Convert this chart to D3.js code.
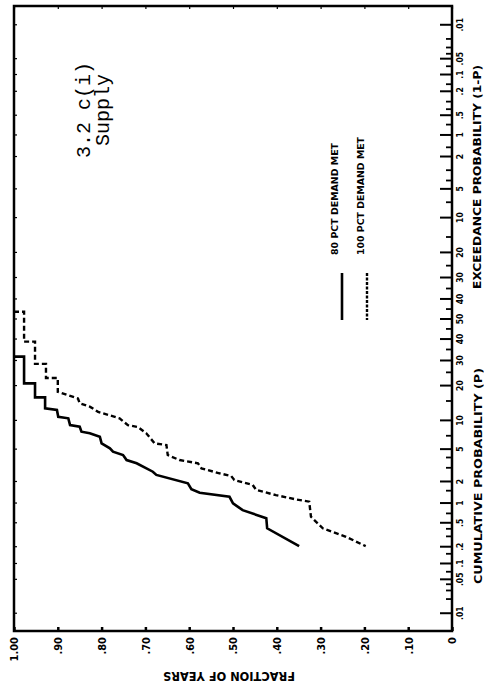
<!DOCTYPE html>
<html>
<head>
<meta charset="utf-8">
<script src="https://cdn.jsdelivr.net/npm/d3@7"></script>
<style>
    body { margin: 0; background: #fff; }
    svg text { font-family: "DejaVu Sans Condensed", "DejaVu Sans", sans-serif; font-weight: bold; fill: #000; }
</style>
</head>
<body>
<svg id="chart" width="484" height="689"></svg>
<script>
//! DATA
// fraction of years axis (drawn along the bottom, 1.00 at left)
let fracTicks = [1.0, 0.9, 0.8, 0.7, 0.6, 0.5, 0.4, 0.3, 0.2, 0.1, 0];
let fracLabels = ["1.00", ".90", ".80", ".70", ".60", ".50", ".40", ".30", ".20", ".10", "0"];

// probability axis (percent), labels show P below 50 and 1-P above
let probMajor = [0.01, 0.05, 0.1, 0.2, 0.5, 1, 2, 5, 10, 20, 30, 40, 50, 60, 70, 80, 90, 95, 98, 99, 99.5, 99.8, 99.9, 99.95, 99.99];
let probLabels = [".01", ".05", ".1", ".2", ".5", "1", "2", "5", "10", "20", "30", "40", "50", "40", "30", "20", "10", "5", "2", "1", ".5", ".2", ".1", ".05", ".01"];
let probMinor = [0.02, 0.03, 0.04, 0.07, 0.15, 0.3, 0.4, 0.7, 1.5, 3, 4, 7, 15, 25, 35, 45, 55, 65, 75, 85, 93, 96, 97, 98.5, 99.3, 99.6, 99.7, 99.85, 99.93, 99.96, 99.97, 99.98];

// 80 PCT DEMAND MET (solid)
let solidFrac = [1.00, 0.977, 0.977, 0.952, 0.952, 0.929, 0.929, 0.902, 0.899, 0.876, 0.872, 0.850, 0.846, 0.827, 0.804, 0.800, 0.781, 0.774, 0.751, 0.743, 0.720, 0.683, 0.675, 0.603, 0.595, 0.576, 0.508, 0.500, 0.478, 0.424, 0.422, 0.349];
let solidProb = [31.5, 31.5, 20.6, 20.6, 15.95, 15.95, 12.8, 12.4, 10.7, 10.35, 8.9, 8.56, 7.62, 7.34, 6.76, 5.73, 5.04, 4.61, 4.22, 3.68, 3.36, 2.64, 2.40, 1.86, 1.55, 1.38, 1.21, 0.975, 0.77, 0.58, 0.40, 0.20];

// 100 PCT DEMAND MET (dashed)
let dashFrac = [1.00, 0.977, 0.977, 0.952, 0.952, 0.927, 0.927, 0.900, 0.900, 0.854, 0.850, 0.826, 0.808, 0.759, 0.740, 0.717, 0.698, 0.679, 0.652, 0.649, 0.622, 0.580, 0.572, 0.531, 0.504, 0.497, 0.455, 0.447, 0.402, 0.356, 0.326, 0.322, 0.295, 0.242, 0.197];
let dashProb = [53.4, 53.4, 38.5, 38.5, 28.3, 28.3, 22.6, 22.6, 17.7, 15.6, 14.2, 13.2, 11.9, 10.35, 8.9, 8.5, 7.34, 5.73, 5.49, 4.22, 3.68, 3.36, 2.91, 2.52, 2.32, 2.06, 1.77, 1.51, 1.28, 1.11, 1.03, 0.61, 0.40, 0.29, 0.20];

let legendNames = ["80 PCT DEMAND MET", "100 PCT DEMAND MET"];

//? inverse normal cdf (Acklam)
function probit(p) {
    let a = [-3.969683028665376e+01, 2.209460984245205e+02, -2.759285104469687e+02, 1.383577518672690e+02, -3.066479806614716e+01, 2.506628277459239e+00];
    let b = [-5.447609879822406e+01, 1.615858368580409e+02, -1.556989798598866e+02, 6.680131188771972e+01, -1.328068155288572e+01];
    let c = [-7.784894002430293e-03, -3.223964580411365e-01, -2.400758277161838e+00, -2.549732539343734e+00, 4.374664141464968e+00, 2.938163982698783e+00];
    let d = [7.784695709041462e-03, 3.224671290700398e-01, 2.445134137142996e+00, 3.754408661907416e+00];
    let pl = 0.02425;
    if (p < pl) {
        let q = Math.sqrt(-2 * Math.log(p));
        return (((((c[0] * q + c[1]) * q + c[2]) * q + c[3]) * q + c[4]) * q + c[5]) / ((((d[0] * q + d[1]) * q + d[2]) * q + d[3]) * q + 1);
    }
    if (p > 1 - pl) {
        let q = Math.sqrt(-2 * Math.log(1 - p));
        return -(((((c[0] * q + c[1]) * q + c[2]) * q + c[3]) * q + c[4]) * q + c[5]) / ((((d[0] * q + d[1]) * q + d[2]) * q + d[3]) * q + 1);
    }
    let q = p - 0.5, r = q * q;
    return (((((a[0] * r + a[1]) * r + a[2]) * r + a[3]) * r + a[4]) * r + a[5]) * q / (((((b[0] * r + b[1]) * r + b[2]) * r + b[3]) * r + b[4]) * r + 1);
}

let svg = d3.select("#chart");

//? Scales (chart is printed turned on its side)
let plotLeft = 14, plotRight = 452, plotTop = 6, plotBottom = 631;
let x = d3.scaleLinear().domain([0, 1]).range([plotRight, plotLeft]);
let z = d3.scaleLinear().domain([-3.95, 3.95]).range([plotBottom, plotTop]);
function py(p) { return z(probit(p / 100)); }

//? Frame
svg.append("rect")
    .attr("x", plotLeft).attr("y", plotTop)
    .attr("width", plotRight - plotLeft).attr("height", plotBottom - plotTop)
    .attr("fill", "none").attr("stroke", "#000").attr("stroke-width", 2.5);

//? Fraction axis (bottom)
let fracAxis = svg.append("g")
    .attr("transform", "translate(0," + plotBottom + ")")
    .call(d3.axisBottom(x).tickValues(fracTicks).tickSize(-4)
        .tickFormat(function (d, i) { return fracLabels[i]; }));
fracAxis.select(".domain").remove();
fracAxis.selectAll("line").attr("stroke-width", 2.5);
fracAxis.selectAll("text")
    .attr("x", 0).attr("y", 0).attr("dy", "0.36em")
    .attr("transform", "translate(0,6) rotate(-90)")
    .attr("text-anchor", "end")
    .style("font-size", "11px");

// mirrored ticks on top edge
let topAxis = svg.append("g")
    .attr("transform", "translate(0," + plotTop + ")")
    .call(d3.axisTop(x).tickValues(fracTicks).tickSize(-3).tickFormat(""));
topAxis.select(".domain").remove();
topAxis.selectAll("line").attr("stroke-width", 1.2);

//? Probability axis (right)
let probAxis = svg.append("g")
    .attr("transform", "translate(" + plotRight + ",0)")
    .call(d3.axisRight(z).tickValues(probMajor.map(function (p) { return probit(p / 100); }))
        .tickSize(-12)
        .tickFormat(function (d, i) { return probLabels[i]; }));
probAxis.select(".domain").remove();
probAxis.selectAll("line").attr("stroke-width", 2);
probAxis.selectAll("text")
    .attr("x", 0).attr("y", 0).attr("dy", "0.36em")
    .attr("transform", "translate(8,0) rotate(-90)")
    .attr("text-anchor", "middle")
    .style("font-size", "8.5px");

let minorAxis = svg.append("g")
    .attr("transform", "translate(" + plotRight + ",0)")
    .call(d3.axisRight(z).tickValues(probMinor.map(function (p) { return probit(p / 100); }))
        .tickSize(-6).tickFormat(""));
minorAxis.select(".domain").remove();
minorAxis.selectAll("line").attr("stroke-width", 1.8);

// mirrored ticks on left edge
let leftAxis = svg.append("g")
    .attr("transform", "translate(" + plotLeft + ",0)")
    .call(d3.axisLeft(z).tickValues(probMajor.map(function (p) { return probit(p / 100); }))
        .tickSize(-3).tickFormat(""));
leftAxis.select(".domain").remove();
leftAxis.selectAll("line").attr("stroke-width", 1.2);

//? Axis titles
svg.append("text")
    .attr("transform", "translate(229,672) rotate(180)")
    .attr("text-anchor", "middle")
    .attr("textLength", 132).attr("lengthAdjust", "spacingAndGlyphs")
    .style("font-size", "13px")
    .text("FRACTION OF YEARS");

svg.append("text")
    .attr("transform", "translate(482,476) rotate(-90)")
    .attr("text-anchor", "middle")
    .attr("textLength", 216).attr("lengthAdjust", "spacingAndGlyphs")
    .style("font-size", "10.5px")
    .text("CUMULATIVE PROBABILITY (P)");

svg.append("text")
    .attr("transform", "translate(481,177) rotate(-90)")
    .attr("text-anchor", "middle")
    .attr("textLength", 224).attr("lengthAdjust", "spacingAndGlyphs")
    .style("font-size", "10.5px")
    .text("EXCEEDANCE PROBABILITY (1-P)");

//? Curves
let line = d3.line()
    .x(function (d) { return x(d.frac); })
    .y(function (d) { return py(d.prob); });

let solidData = solidFrac.map(function (f, i) { return { frac: f, prob: solidProb[i] }; });
let dashData = dashFrac.map(function (f, i) { return { frac: f, prob: dashProb[i] }; });

svg.append("path")
    .datum(solidData)
    .attr("d", line)
    .attr("fill", "none").attr("stroke", "#000")
    .attr("stroke-width", 2.6);

svg.append("path")
    .datum(dashData)
    .attr("d", line)
    .attr("fill", "none").attr("stroke", "#000")
    .attr("stroke-width", 2.4)
    .attr("stroke-dasharray", "5,3");

//? Legend (vertical, reads bottom to top)
let legend = svg.append("g");
legend.append("line")
    .attr("x1", 342).attr("x2", 342).attr("y1", 273).attr("y2", 320)
    .attr("stroke", "#000").attr("stroke-width", 2.6);
legend.append("line")
    .attr("x1", 367).attr("x2", 367).attr("y1", 273).attr("y2", 320)
    .attr("stroke", "#000").attr("stroke-width", 2.4).attr("stroke-dasharray", "3,1.5");
legend.append("text")
    .attr("transform", "translate(338,199) rotate(-90)")
    .attr("text-anchor", "middle")
    .attr("textLength", 112).attr("lengthAdjust", "spacingAndGlyphs")
    .style("font-size", "8.5px")
    .text(legendNames[0]);
legend.append("text")
    .attr("transform", "translate(364,196) rotate(-90)")
    .attr("text-anchor", "middle")
    .attr("textLength", 118).attr("lengthAdjust", "spacingAndGlyphs")
    .style("font-size", "8.5px")
    .text(legendNames[1]);

//? Figure label
let label = svg.append("g");
label.append("text")
    .attr("transform", "translate(90,110) rotate(-90)")
    .attr("text-anchor", "middle")
    .style("font-family", "'Liberation Mono', monospace")
    .style("font-weight", "normal")
    .style("font-size", "20px")
    .text("3.2 c(i)");
label.append("text")
    .attr("transform", "translate(109,110) rotate(-90)")
    .attr("text-anchor", "middle")
    .style("font-family", "'Liberation Mono', monospace")
    .style("font-weight", "normal")
    .style("font-size", "20px")
    .text("Supply");
</script>
</body>
</html>
